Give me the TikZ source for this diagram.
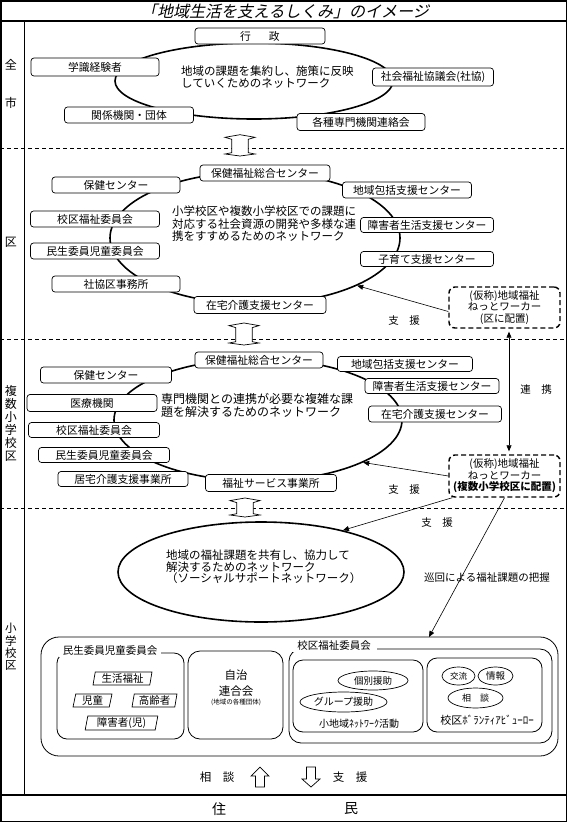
\documentclass[tikz,border=0pt]{standalone}
\usepackage{fontspec}
\setmainfont{Noto Sans CJK JP}
\newfontfamily\titlefont[FakeSlant=0.22]{Noto Sans CJK JP}
\usetikzlibrary{shapes.geometric,arrows.meta}
\newcommand\hdarrow[3]{%
  \filldraw[fill=white, line width=0.7pt] (#1,#2) -- ({#1+15},{#2+2.6}) -- ({#1+8.3},{#2+4.6}) -- ({#1+8.3},{#3-3.3}) -- ({#1+15},{#3-2}) -- (#1,#3) -- ({#1-15},{#3-2}) -- ({#1-8.3},{#3-3.3}) -- ({#1-8.3},{#2+4.6}) -- ({#1-15},{#2+2.6}) -- cycle;}
\tikzset{
  box/.style={draw, rounded corners=3pt, fill=white, line width=0.7pt, inner sep=0pt, font=\fontsize{10.8}{12}\selectfont},
  netell/.style={draw, ellipse, line width=1.6pt, inner sep=0pt},
  nettext/.style={anchor=north west, align=left, inner sep=0pt},
  dbox/.style={draw, line width=1.4pt, dash pattern=on 5pt off 3pt, rounded corners=6pt, fill=white, inner sep=0pt, align=center, font=\fontsize{10.5}{11.5}\selectfont},
  lab/.style={inner sep=0pt, font=\fontsize{10.5}{12}\selectfont},
  sidel/.style={inner sep=0pt, font=\fontsize{12}{13}\selectfont},
  arr/.style={-{Triangle[length=6pt,width=5pt]}, line width=0.6pt},
  arrb/.style={{Triangle[length=6pt,width=5pt]}-{Triangle[length=6pt,width=5pt]}, line width=0.6pt},
  cont/.style={draw, line width=0.8pt, rounded corners=10pt, inner sep=0pt},
  para/.style={draw, trapezium, trapezium left angle=80, trapezium right angle=100, trapezium stretches=true, inner sep=0pt, line width=0.7pt, font=\fontsize{10.5}{12}\selectfont},
  oval/.style={draw, ellipse, inner sep=0pt, line width=0.7pt},
  sep/.style={line width=0.6pt, dash pattern=on 4pt off 3pt}
}
\begin{document}
\begin{tikzpicture}[x=1pt,y=-1pt]
\useasboundingbox (0,0) rectangle (567,822);
% frame
\draw[line width=1.5pt] (0.75,0.75) rectangle (566.25,821.25);
\draw[line width=1.2pt] (0,21) -- (567,21);
\draw[line width=1.2pt] (0,795) -- (567,795);
\draw[line width=1pt] (24,21) -- (24,795);
\draw[sep] (0,148) -- (567,148);
\draw[sep] (0,339) -- (567,339);
\draw[sep] (0,508) -- (567,508);
% title
\node[inner sep=0pt, font=\titlefont\fontsize{16}{18}\selectfont] (title) at (285,11) {「地域生活を支えるしくみ」のイメージ};
% side labels
\node[sidel] (lz) at (11,65) {全};
\node[sidel] (ls) at (11,103) {市};
\node[sidel] (lk) at (11,242) {区};
\node[sidel, align=center] (lf) at (11,423) {複\\数\\小\\学\\校\\区};
\node[sidel, align=center, font=\fontsize{11.5}{12.3}\selectfont] (lsg) at (11,647) {小\\学\\校\\区};

% ===== top network
\node[netell, minimum width=278pt, minimum height=76pt] (n1) at (254,81) {};
\node[nettext, font=\fontsize{11.5}{12}\selectfont] (t1) at (181,65.8) {地域の課題を集約し、施策に反映\\していくためのネットワーク};
\node[box, minimum width=130pt, minimum height=16pt] (gy) at (260,36) {行\hspace{18pt}政};
\node[box, minimum width=128pt, minimum height=18pt] (gk) at (95,67) {学識経験者};
\node[box, minimum width=121pt, minimum height=18pt] (sk) at (433,77) {社会福祉協議会(社協)};
\node[box, minimum width=129pt, minimum height=16pt] (kk) at (129,115) {関係機関・団体};
\node[box, minimum width=128pt, minimum height=17pt] (ks) at (361,122) {各種専門機関連絡会};

% ===== ward network
\node[netell, minimum width=290pt, minimum height=132pt] (n2) at (255,238) {};
\node[nettext, font=\fontsize{11.5}{12.5}\selectfont] (t2) at (172,205.8) {小学校区や複数小学校区での課題に\\対応する社会資源の開発や多様な連\\携をすすめるためのネットワーク};
\node[box, minimum width=130pt, minimum height=16pt] (w1) at (265,173) {保健福祉総合センター};
\node[box, minimum width=128pt, minimum height=16pt] (w2) at (116,185) {保健センター};
\node[box, minimum width=129pt, minimum height=16pt] (w3) at (407,190) {地域包括支援センター};
\node[box, minimum width=129pt, minimum height=16pt] (w4) at (95,219) {校区福祉委員会};
\node[box, minimum width=133pt, minimum height=15pt] (w5) at (427,225) {障害者生活支援センター};
\node[box, minimum width=129pt, minimum height=16pt] (w6) at (95,251) {民生委員児童委員会};
\node[box, minimum width=133pt, minimum height=15pt] (w7) at (427,259) {子育て支援センター};
\node[box, minimum width=128pt, minimum height=16pt] (w8) at (116,284) {社協区事務所};
\node[box, minimum width=132pt, minimum height=17pt] (w9) at (260,305) {在宅介護支援センター};

% ===== multi-school network
\node[netell, minimum width=288pt, minimum height=122pt] (n3) at (258,420) {};
\node[nettext, font=\fontsize{12}{12.5}\selectfont] (t3) at (161,393.6) {専門機関との連携が必要な複雑な課\\題を解決するためのネットワーク};
\node[box, minimum width=128pt, minimum height=16pt] (m1) at (259,360) {保健福祉総合センター};
\node[box, minimum width=135pt, minimum height=15pt] (m2) at (405,364) {地域包括支援センター};
\node[box, minimum width=131pt, minimum height=16pt] (m3) at (106,375) {保健センター};
\node[box, minimum width=134pt, minimum height=15pt] (m4) at (432,386) {障害者生活支援センター};
\node[box, minimum width=130pt, minimum height=17pt] (m5) at (92,403) {医療機関};
\node[box, minimum width=133pt, minimum height=16pt] (m6) at (435,414) {在宅介護支援センター};
\node[box, minimum width=131pt, minimum height=15pt] (m7) at (94,430) {校区福祉委員会};
\node[box, minimum width=131pt, minimum height=15pt] (m8) at (104,455) {民生委員児童委員会};
\node[box, minimum width=130pt, minimum height=15pt] (m9) at (123,479) {居宅介護支援事業所};
\node[box, minimum width=131pt, minimum height=17pt] (m10) at (271,483) {福祉サービス事業所};

% ===== net workers
\node[dbox, minimum width=111pt, minimum height=41pt] (nw1) at (504.5,307.5) {(仮称)地域福祉\\ねっとワーカー\\(区に配置)};
\node[dbox, minimum width=111pt, minimum height=42pt] (nw2) at (504.5,476) {(仮称)地域福祉\\ねっとワーカー\\{\bfseries (複数小学校区に配置)}};
\node[lab] (s1) at (404,321) {支　援};
\node[lab] (s2) at (404,490) {支　援};
\node[lab] (s3) at (437,523) {支　援};
\node[lab] (rk) at (536,390) {連　携};
\node[lab] (jk) at (487,578) {巡回による福祉課題の把握};

% ===== school network
\node[netell, minimum width=286pt, minimum height=100pt] (n4) at (261,572) {};
\node[nettext, font=\fontsize{11.5}{11.5}\selectfont] (t4) at (166,549.8) {地域の福祉課題を共有し、協力して\\解決するためのネットワーク\\（ソーシャルサポートネットワーク）};

% containers
\node[cont, rounded corners=18pt, minimum width=517pt, minimum height=119pt] (outer) at (299.5,696.5) {};
\node[cont, rounded corners=12pt, minimum width=263pt, minimum height=94pt] (kfk) at (420.5,696) {};
\node[cont, minimum width=127pt, minimum height=86pt] (mins) at (120.5,696) {};
\node[cont, rounded corners=12pt, minimum width=95pt, minimum height=88pt] (jichi) at (235.5,695) {};
\node[cont, minimum width=130pt, minimum height=72pt] (shochi) at (358,696) {};
\node[cont, minimum width=115pt, minimum height=74pt] (vol) at (484.5,695) {};
\node[lab, fill=white, inner xsep=4pt, inner ysep=1pt] (minsl) at (110,651) {民生委員児童委員会};
\node[lab, fill=white, inner xsep=6pt, inner ysep=1pt] (kfkl) at (334,646) {校区福祉委員会};
% inside 民生委員
\node[para, minimum width=59pt, minimum height=13pt] (p1) at (122.5,678.5) {生活福祉};
\node[para, minimum width=39pt, minimum height=13pt] (p2) at (92.5,700.5) {児童};
\node[para, minimum width=45pt, minimum height=13pt] (p3) at (154.5,700.5) {高齢者};
\node[para, minimum width=73pt, minimum height=14pt] (p4) at (121.5,723) {障害者(児)};
% 自治連合会
\node[inner sep=0pt, align=center, font=\fontsize{11.5}{16}\selectfont] (jt) at (236,683.5) {自治\\連合会};
\node[inner sep=0pt, font=\fontsize{6.5}{7}\selectfont] (jt2) at (236,702) {(地域の各種団体)};
% 小地域
\node[oval, minimum width=70pt, minimum height=19pt, font=\fontsize{9.5}{10}\selectfont] (o1) at (373,680.5) {個別援助};
\node[oval, minimum width=87pt, minimum height=20pt, font=\fontsize{10}{11}\selectfont] (o2) at (343.5,702) {グループ援助};
\node[inner sep=0pt, font=\fontsize{10}{11}\selectfont] (sht) at (359,724) {小地域ﾈｯﾄﾜｰｸ活動};
% ボランティアビューロー
\node[oval, minimum width=33pt, minimum height=18pt, font=\fontsize{8.5}{9}\selectfont] (o3) at (458.5,676) {交流};
\node[oval, minimum width=35pt, minimum height=18pt, font=\fontsize{9.5}{10}\selectfont] (o4) at (495.5,676) {情報};
\node[oval, minimum width=55pt, minimum height=20pt, font=\fontsize{9}{10}\selectfont] (o5) at (475.5,698) {相　談};
\node[inner sep=0pt, font=\fontsize{11}{12}\selectfont] (vt) at (487,720) {校区ﾎﾞﾗﾝﾃｨｱﾋﾞｭｰﾛｰ};

% arrows
\coordinate (tgt) at (429,637);
\draw[arr] ([yshift=-4pt]nw1.west) -- (n2.-25);
\draw[arr] (nw2.west) -- (n3.-22);
\draw[arr] ([xshift=4pt]nw2.south west) -- (n4.27);
\draw[arr] (nw2.south) -- (tgt);
\draw[arrb, shorten <=3pt, shorten >=3pt] ([xshift=4.5pt]nw1.south) -- ([xshift=4.5pt]nw2.north);

% hollow double arrows
\hdarrow{240}{134.7}{156}
\hdarrow{244}{323}{345}
\hdarrow{245}{498}{517}

% bottom
\node[inner sep=0pt, font=\fontsize{11.5}{12}\selectfont] (sd) at (217,777) {相　談};
\node[inner sep=0pt, font=\fontsize{11.5}{12}\selectfont] (se) at (350,777) {支　援};
\filldraw[fill=white, line width=0.7pt] (260,767) -- (269,776) -- (264.5,776) -- (264.5,787) -- (255.5,787) -- (255.5,776) -- (251,776) -- cycle;
\filldraw[fill=white, line width=0.7pt] (311,787) -- (320,779) -- (315.5,779) -- (315.5,767) -- (306.5,767) -- (306.5,779) -- (302,779) -- cycle;
\node[inner sep=0pt, font=\fontsize{14}{15}\selectfont] (ju) at (219,809) {住};
\node[inner sep=0pt, font=\fontsize{14}{15}\selectfont] (mi) at (351,809) {民};
\end{tikzpicture}
\end{document}
